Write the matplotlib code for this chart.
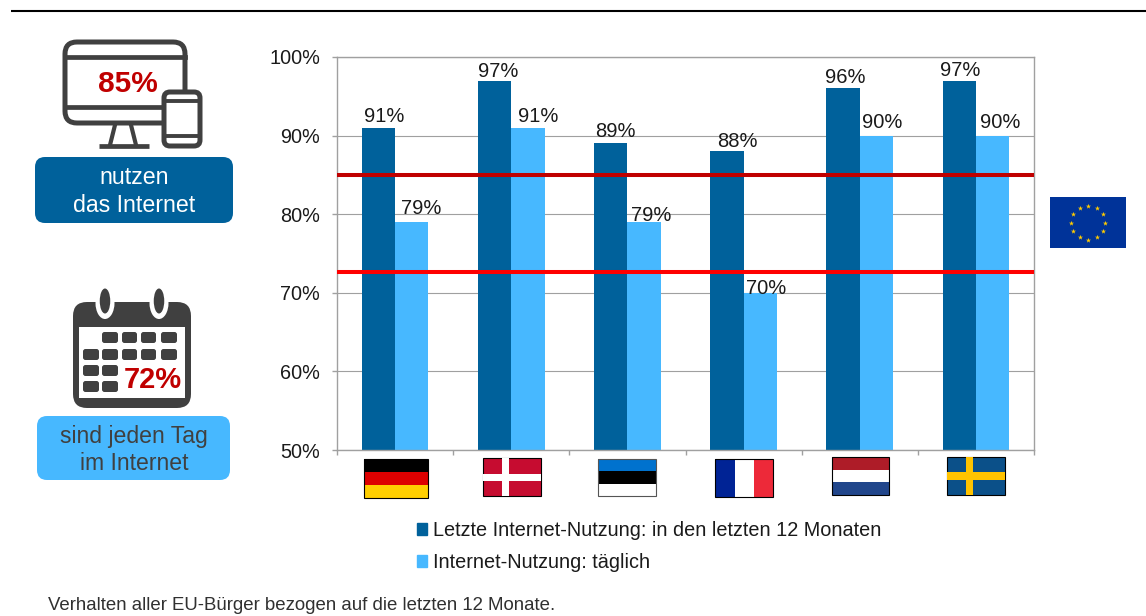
import numpy as np
import matplotlib
matplotlib.use("Agg")
import matplotlib.pyplot as plt
from matplotlib.patches import FancyBboxPatch, Rectangle, Ellipse, Patch

plt.rcParams["font.family"] = ["Liberation Sans", "DejaVu Sans"]

# data
countries = ["DE", "DK", "EE", "FR", "NL", "SE"]
internet_12m = [91, 97, 89, 88, 96, 97]
internet_daily = [79, 91, 79, 70, 90, 90]
eu_12m = 85
eu_daily = 72.6
series_names = ["Letzte Internet-Nutzung: in den letzten 12 Monaten", "Internet-Nutzung: täglich"]
y_ticks = [50, 60, 70, 80, 90, 100]
footnote = "Verhalten aller EU-Bürger bezogen auf die letzten 12 Monate."

DARK = "#00619B"
LIGHT = "#47B8FF"
GREY = "#404040"
RED = "#C00000"
TXT = "#1A1A1A"
W, H = 1146, 616

fig = plt.figure(figsize=(W / 100, H / 100), dpi=100)
ax = fig.add_axes([337 / W, (H - 450) / H, 697 / W, 393 / H])

x = np.arange(len(countries))
bw = 33.3 / 116.17
bars1 = ax.bar(x - bw / 2, internet_12m, bw, color=DARK, zorder=2)
bars2 = ax.bar(x + bw / 2, internet_daily, bw, color=LIGHT, zorder=2)
ax.set_xlim(-0.5, 5.5)
ax.set_ylim(50, 100)
ax.set_yticks(y_ticks)
ax.set_yticklabels([f"{v}%" for v in y_ticks], fontsize=14.3, color=TXT)
ax.set_xticks(np.arange(-0.5, 6, 1))
ax.set_xticklabels([])
ax.tick_params(axis="both", color="#A0A0A0", length=3.6, width=1)
ax.tick_params(axis="y", pad=8.6)
ax.grid(axis="y", color="#A0A0A0", lw=0.8, zorder=0)
ax.set_axisbelow(True)
for s in ax.spines.values():
    s.set_color("#A0A0A0")
    s.set_linewidth(1)

ax.axhline(eu_12m, color=RED, lw=2.9, zorder=3)
ax.axhline(eu_daily, color="#FF0000", lw=2.9, zorder=3)

# labels sit a bit off the bars in the original, offsets in px
off1 = [(6, 11), (4, 9), (5, 12), (10, 10), (2, 11), (1, 10)]
off2 = [(9, 14), (10, 11), (7, 7), (6, 4), (6, 13), (8, 13)]
for bars, vals, offs in ((bars1, internet_12m, off1), (bars2, internet_daily, off2)):
    for b, v, o in zip(bars, vals, offs):
        ax.annotate(f"{v}%", (b.get_x() + b.get_width() / 2, v), xytext=o,
                    textcoords="offset pixels", ha="center", va="center",
                    fontsize=14.5, color=TXT, zorder=5)

fig.legend([Patch(color=DARK), Patch(color=LIGHT)], series_names, loc="upper left",
           bbox_to_anchor=(409 / W, 1 - 513 / H), frameon=False, fontsize=14.3,
           handlelength=0.53, handleheight=0.53, handletextpad=0.26,
           labelspacing=0.66, borderpad=0.4, borderaxespad=0, labelcolor=TXT)

# overlay in pixel coordinates for icons and flags
ov = fig.add_axes([0, 0, 1, 1], zorder=10)
ov.set_xlim(0, W)
ov.set_ylim(H, 0)
ov.axis("off")
ov.patch.set_alpha(0)


def rbox(x0, y0, x1, y1, r, **kw):
    ov.add_patch(FancyBboxPatch((x0 + r, y0 + r), x1 - x0 - 2 * r, y1 - y0 - 2 * r,
                                boxstyle=f"round,pad={r},rounding_size={r}", **kw))


def hflag(x0, y0, x1, y1, cols, edge="black"):
    n = len(cols)
    h = (y1 - y0) / n
    for i, c in enumerate(cols):
        ov.add_patch(Rectangle((x0, y0 + i * h), x1 - x0, h, fc=c, ec="none"))
    ov.add_patch(Rectangle((x0, y0), x1 - x0, y1 - y0, fc="none", ec=edge, lw=0.8))


def cross(x0, y0, x1, y1, bg, fg, cx, t):
    ov.add_patch(Rectangle((x0, y0), x1 - x0, y1 - y0, fc=bg, ec="black", lw=0.8))
    cy = (y0 + y1) / 2
    ov.add_patch(Rectangle((x0, cy - t / 2), x1 - x0, t, fc=fg, ec="none"))
    ov.add_patch(Rectangle((cx - t / 2, y0), t, y1 - y0, fc=fg, ec="none"))


ov.plot([11, W], [11, 11], color="black", lw=1.5, solid_capstyle="butt")

# monitor + phone
rbox(65, 42, 185, 123, 12, fc="white", ec=GREY, lw=3.6)
ov.plot([65, 185], [57, 57], color=GREY, lw=3.4)
ov.plot([65, 185], [107, 107], color=GREY, lw=3.4)
ov.plot([115, 110], [125, 145], color=GREY, lw=3)
ov.plot([131, 136], [125, 145], color=GREY, lw=3)
ov.plot([99, 149], [146, 146], color=GREY, lw=3.4, solid_capstyle="butt")
rbox(164, 92, 200, 146, 6, fc="white", ec=GREY, lw=3.6, zorder=3)
ov.plot([164, 200], [101, 101], color=GREY, lw=2.8, zorder=4)
ov.plot([164, 200], [136, 136], color=GREY, lw=2.8, zorder=4)
ov.text(128, 84, "85%", color=RED, fontsize=21.5, fontweight="bold", ha="center", va="center")

rbox(35, 157, 233, 223, 10, fc=DARK, ec="none")
ov.text(134, 178, "nutzen", color="white", fontsize=16.7, ha="center", va="center")
ov.text(134, 205, "das Internet", color="white", fontsize=16.7, ha="center", va="center")

# calendar
rbox(73, 302, 191, 408, 14, fc=GREY, ec="none")
ov.add_patch(Rectangle((79, 327), 106, 71, fc="white", ec="none"))
for cx in (105, 159):
    ov.add_patch(Ellipse((cx, 303), 19, 32, fc="white", ec="none"))
    ov.add_patch(Ellipse((cx, 301), 10.5, 25, fc=GREY, ec="none"))
cols = [(83, 99), (102, 118), (122, 137), (141, 156), (161, 177)]
rows = [(332, 343, [1, 2, 3, 4]), (349, 360, [0, 1, 2, 3, 4]), (365, 376, [0, 1]), (381, 392, [0, 1])]
for y0, y1, idx in rows:
    for i in idx:
        rbox(cols[i][0], y0, cols[i][1], y1, 2.5, fc=GREY, ec="none")
ov.text(152.5, 380, "72%", color=RED, fontsize=21, fontweight="bold", ha="center", va="center")

rbox(37, 416, 230, 480, 10, fc=LIGHT, ec="none")
ov.text(134, 436, "sind jeden Tag", color=GREY, fontsize=16.6, ha="center", va="center")
ov.text(134, 464, "im Internet", color=GREY, fontsize=16.6, ha="center", va="center")

# flags
hflag(364, 459, 428, 498, ["#000000", "#DD0000", "#FFCE00"])
cross(483, 458, 541, 496, "#C60C30", "white", 505, 7)
hflag(598, 459, 656, 496, ["#0072CE", "#000000", "#FFFFFF"], edge="#555555")
ov.add_patch(Rectangle((715, 459), 58, 38, fc="white", ec="none"))
ov.add_patch(Rectangle((715, 459), 19.5, 38, fc="#002395", ec="none"))
ov.add_patch(Rectangle((754, 459), 19, 38, fc="#ED2939", ec="none"))
ov.add_patch(Rectangle((715, 459), 58, 38, fc="none", ec="black", lw=0.8))
hflag(832, 457, 889, 495, ["#AE1C28", "#FFFFFF", "#21468B"])
cross(947, 457, 1005, 495, "#0B5089", "#FFC300", 969.5, 7.5)

# EU flag
ov.add_patch(Rectangle((1050, 197), 76, 51, fc="#003399", ec="none"))
a = np.arange(12) * np.pi / 6
ov.scatter(1088 + 17 * np.sin(a), 222.5 - 17 * np.cos(a), marker="*", s=15, color="#FFCC00", lw=0)

ov.text(48, 605, footnote, fontsize=13.45, color="#303030", ha="left", va="center")

fig.savefig("out.png", dpi=100)
